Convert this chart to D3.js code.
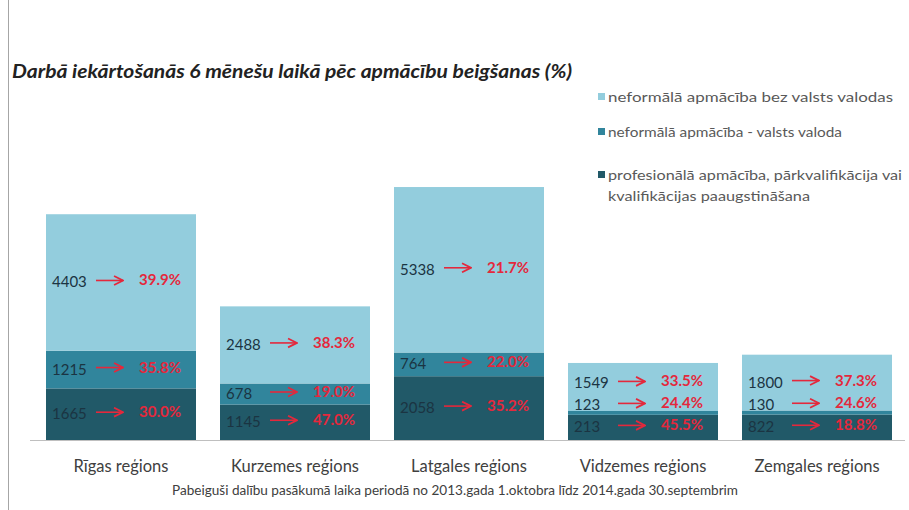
<!DOCTYPE html>
<html><head><meta charset="utf-8">
<script src="https://cdn.jsdelivr.net/npm/d3@7"></script>
<style>
html,body{margin:0;padding:0;background:#fff;}
svg{display:block;font-family:Lato,"Open Sans",sans-serif;}
</style></head>
<body>
<svg id="chart" width="909" height="510"></svg>
<script>
const categories = ["Rīgas reģions","Kurzemes reģions","Latgales reģions","Vidzemes reģions","Zemgales reģions"];
const seriesNames = [
  "neformālā apmācība bez valsts valodas",
  "neformālā apmācība - valsts valoda",
  "profesionālā apmācība, pārkvalifikācija vai kvalifikācijas paaugstināšana"
];
const bezValues    = [4403, 2488, 5338, 1549, 1800];
const valodaValues = [1215, 678, 764, 123, 130];
const profValues   = [1665, 1145, 2058, 813, 822];
const bezLabels    = ["4403","2488","5338","1549","1800"];
const valodaLabels = ["1215","678","764","123","130"];
const profLabels   = ["1665","1145","2058","213","822"];
const bezPct    = ["39.9%","38.3%","21.7%","33.5%","37.3%"];
const valodaPct = ["35.8%","19.0%","22.0%","24.4%","24.6%"];
const profPct   = ["30.0%","47.0%","35.2%","45.5%","18.8%"];
const title = "Darbā iekārtošanās 6 mēnešu laikā pēc apmācību beigšanas (%)";
const footnote = "Pabeiguši dalību pasākumā laika periodā no 2013.gada 1.oktobra līdz 2014.gada  30.septembrim";

const colors = {prof:"#215968", valoda:"#31859c", bez:"#93cddd"};

const svg = d3.select("#chart");

// frame line on the left
svg.append("line").attr("x1",8.5).attr("x2",8.5).attr("y1",0).attr("y2",510)
  .attr("stroke","#a6a6a6").attr("stroke-width",1);

const x = d3.scaleBand().domain(categories).range([34, 904])
  .paddingInner(24/174).paddingOuter(12/174);
const y = d3.scaleLinear().domain([0, 9000]).range([440, 161]);

const rows = categories.map((c,i)=>({
  cat:c, prof:profValues[i], valoda:valodaValues[i], bez:bezValues[i],
  labels:{prof:profLabels[i], valoda:valodaLabels[i], bez:bezLabels[i]},
  pct:{prof:profPct[i], valoda:valodaPct[i], bez:bezPct[i]}
}));
const keys = ["prof","valoda","bez"];
const stacked = d3.stack().keys(keys)(rows);

// baseline
svg.append("line").attr("x1",30).attr("x2",905)
  .attr("y1",y(0)+0.5).attr("y2",y(0)+0.5)
  .attr("stroke","#bfbfbf").attr("stroke-width",1);

const layers = svg.append("g").selectAll("g").data(stacked).join("g")
  .attr("fill", d=>colors[d.key]);
layers.selectAll("rect").data(d=>d).join("rect")
  .attr("x", d=>x(d.data.cat))
  .attr("width", x.bandwidth())
  .attr("y", d=>y(d[1]))
  .attr("height", d=>y(d[0])-y(d[1]));

// arrow marker
const defs = svg.append("defs");
defs.append("marker").attr("id","arr").attr("viewBox","0 0 10 10")
  .attr("refX",9).attr("refY",5).attr("markerWidth",7).attr("markerHeight",7)
  .attr("orient","auto")
  .append("path").attr("d","M1,1 L9,5 L1,9").attr("fill","none")
  .attr("stroke","#e4283c").attr("stroke-width",1.6);

// label positions: segment centre, pushed up so labels keep a minimum gap
const gap = 22;
const labelG = svg.append("g");
rows.forEach((r,i)=>{
  let prevY = Infinity;
  stacked.forEach(layer=>{
    const d = layer[i];
    const center = (y(d[0])+y(d[1]))/2;
    const cy = Math.min(center, prevY - gap);
    prevY = cy;
    const x0 = x(r.cat);
    labelG.append("text").attr("x", x0+6).attr("y", cy+5)
      .attr("font-size",15).attr("fill","#1b3442")
      .text(r.labels[layer.key]);
    labelG.append("line")
      .attr("x1", x0+50).attr("x2", x0+77)
      .attr("y1", cy-2).attr("y2", cy-2)
      .attr("stroke","#e4283c").attr("stroke-width",1.6)
      .attr("marker-end","url(#arr)");
    labelG.append("text").attr("x", x0+135).attr("y", cy+3)
      .attr("text-anchor","end")
      .attr("font-size",15).attr("font-weight","bold").attr("fill","#e4283c")
      .text(r.pct[layer.key]);
  });
});

// category labels
svg.append("g").selectAll("text").data(categories).join("text")
  .attr("x", d=>x(d)+x.bandwidth()/2).attr("y", 472)
  .attr("text-anchor","middle").attr("font-size",16.5).attr("fill","#404040")
  .text(d=>d);

// footnote
svg.append("text").attr("x",455).attr("y",495).attr("text-anchor","middle")
  .attr("font-size",12.5).attr("fill","#404040")
  .attr("textLength",566).attr("lengthAdjust","spacingAndGlyphs").text(footnote);

// title
svg.append("text").attr("x",12).attr("y",78)
  .attr("font-size",19.5).attr("font-weight","bold").attr("font-style","italic")
  .attr("fill","#222")
  .attr("textLength",560).attr("lengthAdjust","spacingAndGlyphs").text(title);

// legend
const legendItems = [
  {key:"bez", lines:[seriesNames[0]], widths:[285], y:97},
  {key:"valoda", lines:[seriesNames[1]], widths:[234], y:132},
  {key:"prof", lines:["profesionālā apmācība, pārkvalifikācija vai","kvalifikācijas paaugstināšana"], widths:[294,202], y:175}
];
const lg = svg.append("g");
legendItems.forEach(it=>{
  lg.append("rect").attr("x",598).attr("y",it.y-4).attr("width",7).attr("height",7)
    .attr("fill",colors[it.key]);
  it.lines.forEach((ln,j)=>{
    lg.append("text").attr("x",608).attr("y",it.y+5+j*21)
      .attr("font-size",14).attr("fill","#595959")
      .attr("textLength",it.widths[j]).attr("lengthAdjust","spacingAndGlyphs")
      .text(ln);
  });
});
</script>
</body></html>
